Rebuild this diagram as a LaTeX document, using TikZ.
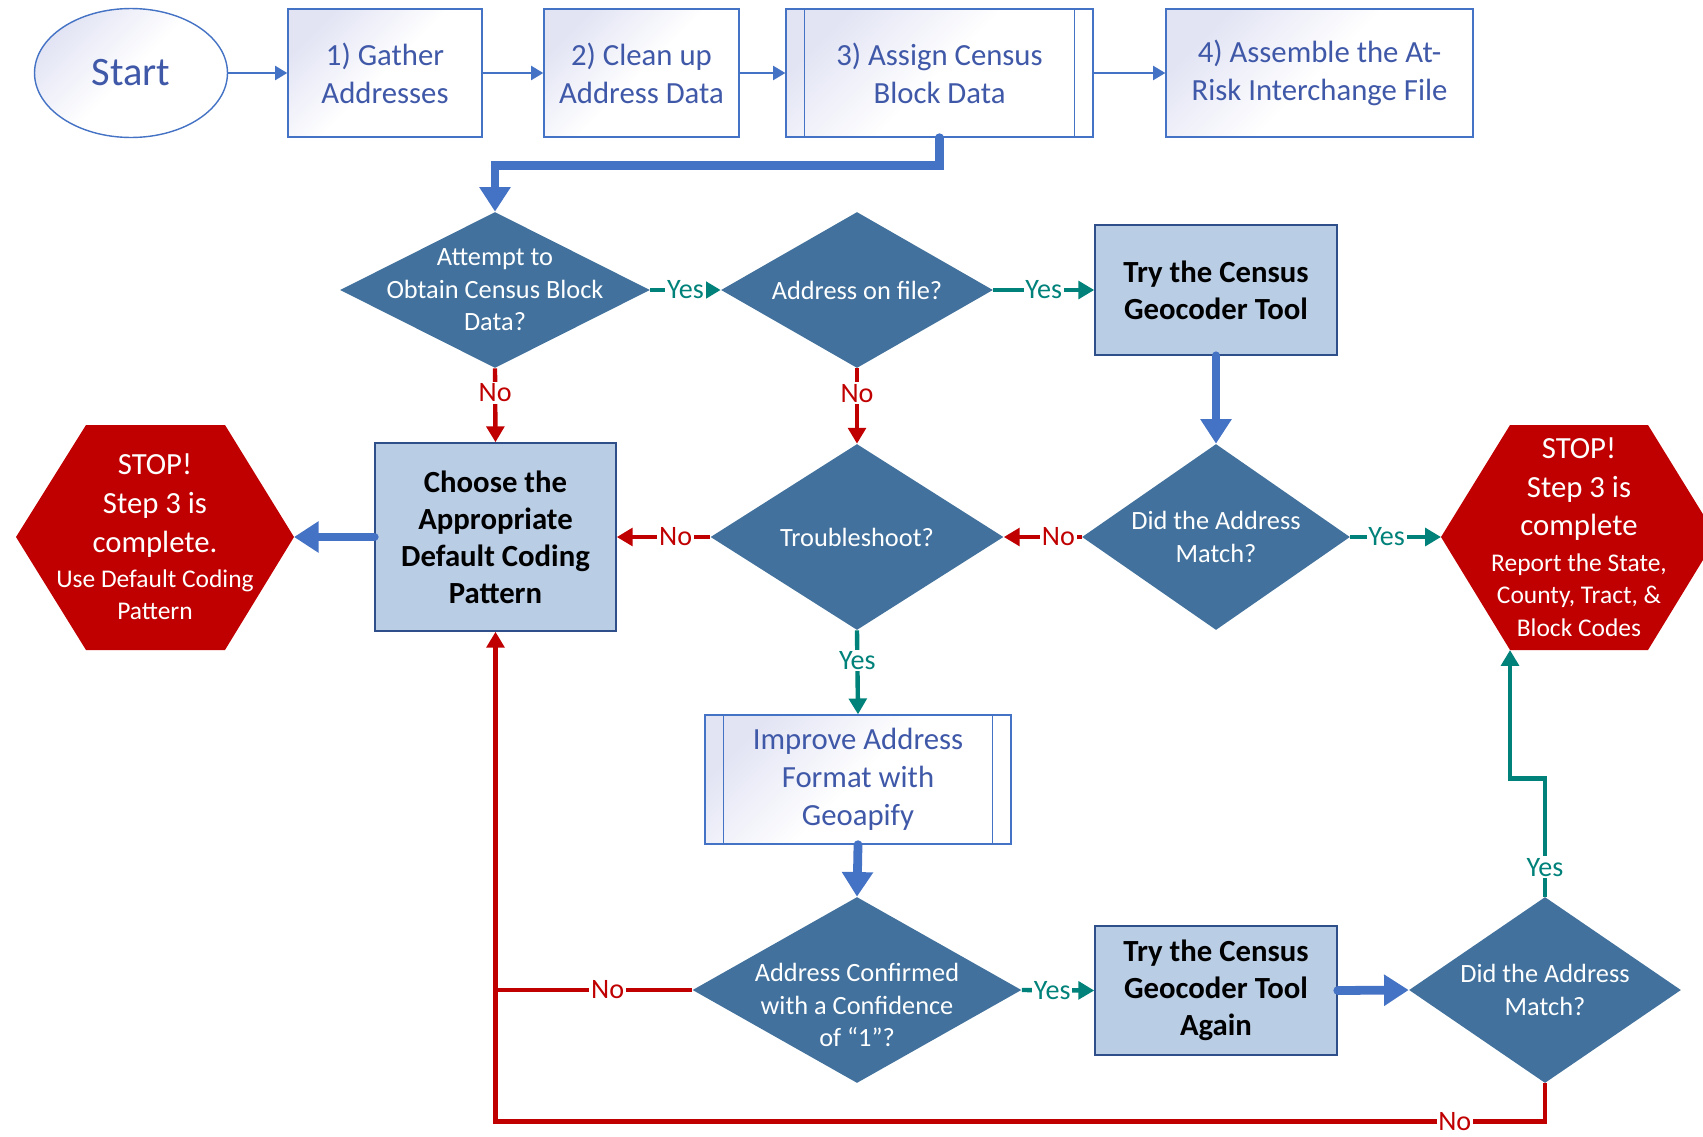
\documentclass[tikz,border=0pt]{standalone}
\usepackage{fontspec}
\setmainfont{Carlito}
\usetikzlibrary{arrows.meta,shapes.geometric,calc}

\definecolor{stepBlue}{HTML}{4472C4}
\definecolor{stepText}{HTML}{3F58A8}
\definecolor{lavTint}{HTML}{E2E4F4}
\definecolor{qBlue}{HTML}{41719C}
\definecolor{actionFill}{HTML}{B9CDE5}
\definecolor{actionEdge}{HTML}{2F4F8A}
\definecolor{stopRed}{HTML}{C00000}
\definecolor{yesTeal}{HTML}{00827A}

\begin{document}
\begin{tikzpicture}[x=0.02cm,y=-0.02cm,>={Triangle[width=8pt,length=7pt]},thin]
	\tikzstyle{every node}=[align=center]
	\tikzstyle{process}=[rectangle,draw=stepBlue,line width=0.8pt,top color=lavTint,bottom color=white,middle color=white,shading angle=45,text=stepText,font=\fontsize{17.5}{21.6}\selectfont,minimum height=2.56cm,inner sep=0pt]
	\tikzstyle{subprocess}=[process,path picture={
		\draw[stepBlue,line width=0.8pt] ([xshift=0.37cm]path picture bounding box.north west) -- ([xshift=0.37cm]path picture bounding box.south west)
		([xshift=-0.37cm]path picture bounding box.north east) -- ([xshift=-0.37cm]path picture bounding box.south east);}]
	\tikzstyle{startnode}=[ellipse,draw=stepBlue,line width=0.8pt,top color=lavTint,bottom color=white,middle color=white,shading angle=45,text=stepText,font=\fontsize{23}{27}\selectfont,minimum width=3.86cm,minimum height=2.58cm,inner sep=0pt]
	\tikzstyle{decision}=[diamond,fill=qBlue,draw=none,inner sep=0pt]
	\tikzstyle{qtext}=[text=white,font=\fontsize{15}{18.5}\selectfont]
	\tikzstyle{action}=[rectangle,fill=actionFill,draw=actionEdge,line width=0.9pt,font=\bfseries\fontsize{17.5}{21}\selectfont,inner sep=0pt]
	\tikzstyle{stoptext}=[text=white,font=\fontsize{17.5}{22}\selectfont]
	\tikzstyle{thinflow}=[draw=stepBlue,line width=1.3pt,->]
	\tikzstyle{flow}=[draw=stepBlue,line width=5pt,line cap=round,-{Triangle[width=17pt,length=14pt]}]
	\tikzstyle{noline}=[draw=stopRed,line width=2.5pt,-{Triangle[width=10pt,length=9pt]}]
	\tikzstyle{yesline}=[draw=yesTeal,line width=2.5pt,-{Triangle[width=10pt,length=9pt]}]
	\tikzstyle{nolabel}=[fill=white,inner sep=1pt,text=stopRed,font=\fontsize{16}{18}\selectfont]
	\tikzstyle{yeslabel}=[fill=white,inner sep=1pt,text=yesTeal,font=\fontsize{16}{18}\selectfont]
	
	\useasboundingbox (0,0) rectangle (1703,1136);
	
	% top row
	\node[startnode]						(Start)			at (131,73)		{Start};
	\node[process,minimum width=3.88cm]		(GatherStep)	at (385,73)		{1) Gather\\Addresses};
	\node[process,minimum width=3.9cm]		(CleanStep)		at (641.5,73)	{2) Clean up\\Address Data};
	\node[subprocess,minimum width=6.14cm]	(AssignStep)	at (939.5,73)	{3) Assign Census\\Block Data};
	\node[process,minimum width=6.14cm]		(AssembleStep)	at (1319.5,73)	{4) Assemble the At-\\Risk Interchange File};
	
	% questions
	\node[decision,minimum width=6.2cm,minimum height=3.12cm,label={[qtext]center:{Attempt to\\Obtain Census Block\\Data?}}]	(AttemptQ)	at (495,290) {};
	\node[decision,minimum width=5.44cm,minimum height=3.12cm,label={[qtext]center:{Address on file?}}]	(OnFileQ)	at (857,290) {};
	\node[decision,minimum width=5.86cm,minimum height=3.72cm,label={[qtext]center:{Troubleshoot?}}]	(TroubleQ)	at (857,537) {};
	\node[decision,minimum width=5.36cm,minimum height=3.72cm,label={[qtext]center:{Did the Address\\Match?}}]	(MatchQ)	at (1216,537) {};
	\node[decision,minimum width=6.58cm,minimum height=3.72cm,label={[qtext,yshift=-0.3cm]center:{Address Confirmed\\with a Confidence\\of “1”?}}]	(ConfirmQ)	at (857,990) {};
	\node[decision,minimum width=5.44cm,minimum height=3.72cm,label={[qtext]center:{Did the Address\\Match?}}]	(MatchAgainQ)	at (1545,990) {};
	
	% actions
	\node[action,minimum width=4.84cm,minimum height=2.6cm]		(GeocoderBox)	at (1216,290)	{Try the Census\\Geocoder Tool};
	\node[action,minimum width=4.82cm,minimum height=3.76cm]	(ChooseBox)		at (495.5,537)	{Choose the\\Appropriate\\Default Coding\\Pattern};
	\node[subprocess,minimum width=6.12cm,minimum height=2.58cm]	(ImproveStep)	at (858,779.5)	{Improve Address\\Format with\\Geoapify};
	\node[action,minimum width=4.84cm,minimum height=2.58cm]	(AgainBox)		at (1216,990.5)	{Try the Census\\Geocoder Tool\\Again};
	
	% stop signs
	\fill[stopRed] (16,537) -- (86,425) -- (225,425) -- (294,537) -- (225,650) -- (86,650) -- cycle;
	\fill[stopRed] (1441,537) -- (1510,425) -- (1648,425) -- (1717,537) -- (1648,650) -- (1510,650) -- cycle;
	\coordinate (StopLeftEdge) at (294,537);
	\coordinate (StopRightEdge) at (1441,537);
	\coordinate (StopRightFoot) at (1510,650);
	\node[stoptext]	(StopLeft)	at (155,537)	{STOP!\\Step 3 is\\complete.\\[-2pt]{\fontsize{14.5}{18.5}\selectfont Use Default Coding}\\[-3.5pt]{\fontsize{14.5}{18.5}\selectfont Pattern}};
	\node[stoptext]	(StopRight)	at (1579,537)	{STOP!\\Step 3 is\\complete\\[-2pt]{\fontsize{14.5}{18.5}\selectfont Report the State,}\\[-3.5pt]{\fontsize{14.5}{18.5}\selectfont County, Tract, \&}\\[-3.5pt]{\fontsize{14.5}{18.5}\selectfont Block Codes}};
	
	\draw[thinflow] (Start) -- (GatherStep);
	\draw[thinflow] (GatherStep) -- (CleanStep);
	\draw[thinflow] (CleanStep) -- (AssignStep);
	\draw[thinflow] (AssignStep) -- (AssembleStep);
	
	\draw[flow] (AssignStep.south) -- ++(0,28) -| (AttemptQ.north);
	\draw[flow] (GeocoderBox.south) -- (MatchQ.north);
	\draw[flow] (ChooseBox.west) -- (StopLeftEdge);
	\draw[flow] (ImproveStep.south) -- (ConfirmQ.north);
	\draw[flow] (AgainBox.east) -- (MatchAgainQ.west);
	
	\draw[yesline] (AttemptQ.east) -- node[yeslabel] {Yes} (OnFileQ.west);
	\draw[yesline] (OnFileQ.east) -- node[yeslabel] {Yes} (GeocoderBox.west);
	\draw[yesline] (MatchQ.east) -- node[yeslabel,pos=0.4] {Yes} (StopRightEdge);
	\draw[yesline] (TroubleQ.south) -- node[yeslabel,pos=0.36] {Yes} (ImproveStep.north);
	\draw[yesline] (ConfirmQ.east) -- node[yeslabel,pos=0.42] {Yes} (AgainBox.west);
	\draw[yesline] (MatchAgainQ.north) -- node[yeslabel,pos=0.25] {Yes} ++(0,-118) -| (StopRightFoot);
	
	\draw[noline] (AttemptQ.south) -- node[nolabel,pos=0.33] {No} (ChooseBox.north);
	\draw[noline] (OnFileQ.south) -- node[nolabel,pos=0.33] {No} (TroubleQ.north);
	\draw[noline] (TroubleQ.west) -- node[nolabel,pos=0.37] {No} (ChooseBox.east);
	\draw[noline] (MatchQ.west) -- node[nolabel,pos=0.3] {No} (TroubleQ.east);
	\draw[noline] (MatchAgainQ.south) -- ++(0,38) -| node[nolabel,pos=0.043] {No} (ChooseBox.south);
	\draw[noline,-] (ConfirmQ.west) -- node[nolabel,pos=0.43] {No} (ConfirmQ.west -| ChooseBox.south);
\end{tikzpicture}
\end{document}
